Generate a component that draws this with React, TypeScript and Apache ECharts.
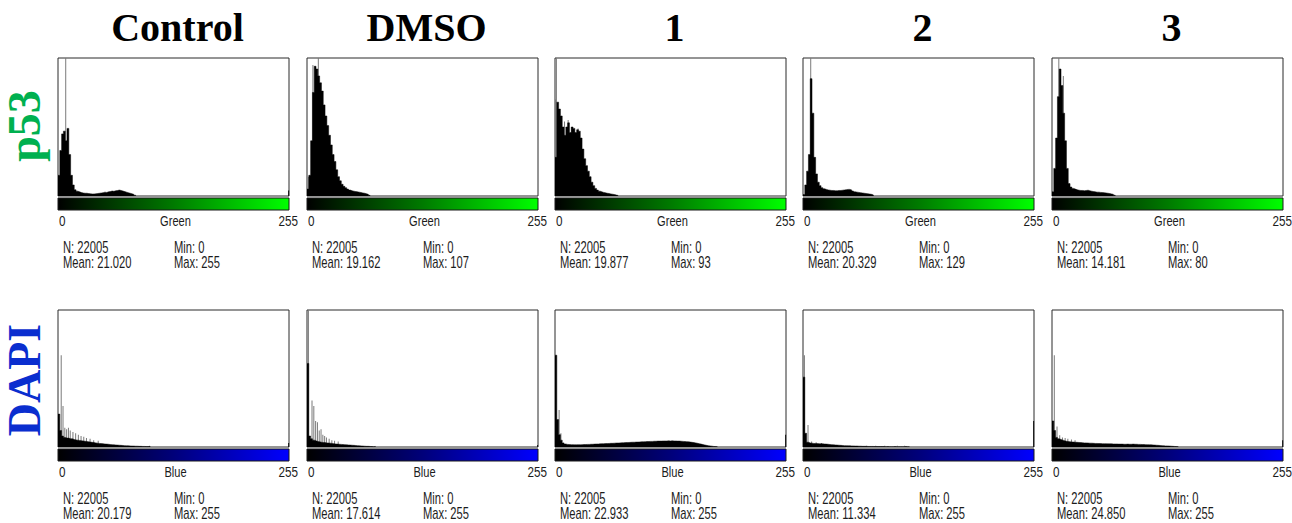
import React, { useEffect, useRef } from "react";
import * as echarts from "echarts";

// ---------- data ----------
const columns = ["Control", "DMSO", "1", "2", "3"];
const rowLabels = ["p53", "DAPI"];
const channelNames = ["Green", "Blue"];
const pixelCount = 22005;
const p53Means = ["21.020", "19.162", "19.877", "20.329", "14.181"];
const p53Mins = [0, 0, 0, 0, 0];
const p53Maxes = [255, 107, 93, 129, 80];
const dapiMeans = ["20.179", "17.614", "22.933", "11.334", "24.850"];
const dapiMins = [0, 0, 0, 0, 0];
const dapiMaxes = [255, 255, 255, 255, 255];
const axisStart = "0";
const axisEnd = "255";

// histogram heights (% of frame height), one value per 2 grey levels, from level 0
const binWidth = 2;
const p53Control = [15, 33, 45, 47, 40, 49, 30, 15, 8, 4.5, 3.5, 3, 2.5, 2.2, 2, 2, 1.8, 1.6, 1.5, 1.5, 1.6, 1.8, 2, 2.2, 2.4, 2.8, 2.6, 3, 3.2, 3.6, 3.4, 3.8, 4, 4.3, 4, 3.6, 3.2, 2.8, 2.4, 2, 1.6, 1.2, 0.6];
const p53Dmso = [5, 15, 40, 75, 94, 92, 87, 82, 76, 66, 58, 51, 44, 37, 30, 25, 19, 14, 11, 8.5, 7, 6, 5, 4.3, 3.8, 3.5, 3.2, 3, 2.8, 2.5, 2.2, 2, 1.6, 1.2, 0.5];
const p53One = [28, 68, 63, 58, 50, 44, 50, 53, 46, 50, 49, 46, 48, 47, 42, 34, 27, 22, 18, 14, 10, 7.5, 5.5, 4.3, 3.5, 3, 2.6, 2.3, 2, 1.8, 1.5, 1.3, 1, 0.7, 0.4];
const p53Two = [1, 8, 18, 30, 85, 60, 28, 16, 10, 7.5, 6, 5.2, 4.8, 4.4, 4.2, 4, 4, 3.8, 3.8, 4, 4, 4.2, 4.4, 4.6, 4.8, 4.8, 4.4, 3.6, 3, 2.8, 2.6, 2.4, 2.2, 2, 1.8, 1.6, 1.4, 1.2, 0.8];
const p53Three = [3, 20, 42, 72, 92, 80, 60, 40, 20, 9, 6.5, 5.5, 5, 4.5, 4.2, 4, 4, 3.8, 4, 4.2, 3.8, 3.5, 3.2, 3, 2.8, 2.8, 2.6, 2.5, 2.4, 2.2, 2, 1.8, 1.5, 1.2, 0.6];
const dapiControl = [24, 12, 8, 7, 6.5, 6.5, 6, 6, 5.5, 5.2, 5, 4.8, 4.6, 4.4, 4.2, 4, 3.8, 3.6, 3.4, 3.2, 3, 2.8, 2.6, 2.5, 2.4, 2.2, 2.1, 2, 1.8, 1.7, 1.6, 1.5, 1.4, 1.3, 1.2, 1.1, 1, 0.9, 0.9, 0.8, 0.7, 0.7, 0.6, 0.6, 0.5, 0.5, 0.4, 0.4, 0.3, 0.3, 0.6];
const dapiDmso = [61, 8, 6, 5, 4.5, 4, 3.8, 3.5, 3.3, 3.2, 3, 2.9, 2.8, 2.6, 2.4, 2.2, 2.1, 2, 1.9, 1.8, 1.7, 1.6, 1.5, 1.4, 1.3, 1.2, 1.1, 1, 0.9, 0.8, 0.7, 0.6, 0.5, 0.5, 0.4, 0.3, 0.2, 0.4];
const dapiOne = [67, 20, 9, 5, 3, 2.2, 1.9, 1.8, 1.7, 1.7, 1.6, 1.6, 1.7, 1.6, 1.7, 1.8, 1.8, 1.9, 1.9, 2, 2, 2.1, 2.2, 2.2, 2.3, 2.4, 2.4, 2.5, 2.5, 2.6, 2.7, 2.7, 2.8, 2.9, 2.9, 3, 3.1, 3.1, 3.2, 3.3, 3.3, 3.4, 3.5, 3.5, 3.6, 3.6, 3.7, 3.8, 3.8, 3.9, 4, 4, 4.1, 4.1, 4.2, 4.2, 4.3, 4.3, 4.3, 4.4, 4.4, 4.4, 4.5, 4.4, 4.5, 4.4, 4.4, 4.3, 4.3, 4.2, 4.1, 4, 3.9, 3.8, 3.6, 3.4, 3.2, 3, 2.7, 2.4, 2.1, 1.8, 1.5, 1.2, 1, 0.8, 0.6, 0.4, 0.3, 0.2];
const dapiTwo = [51, 10, 3.5, 3, 2.8, 2.6, 2.5, 2.5, 2.4, 2.4, 2.3, 2.2, 2.1, 2, 1.8, 1.7, 1.6, 1.5, 1.4, 1.3, 1.2, 1.1, 1, 1, 0.9, 0.9, 0.8, 0.8, 0.7, 0.7, 0.6, 0.6, 0.5, 0.5, 0.5, 0.4, 0.4, 0.4, 0.4, 0.3, 0.3, 0.3, 0.3, 0.3, 0.3, 0.2, 0.3, 0.2, 0.2, 0.2, 0.3, 0.2, 0.2, 0.2, 0.2, 0.2, 0.3, 0.2, 0.2];
const dapiThree = [19, 12, 7, 6, 5.5, 5, 4.6, 4.2, 4, 3.8, 3.7, 3.6, 3.5, 3.4, 3.3, 3.2, 3.1, 3, 3, 2.9, 2.8, 2.8, 2.7, 2.6, 2.6, 2.5, 2.5, 2.4, 2.4, 2.4, 2.3, 2.3, 2.3, 2.2, 2.2, 2.2, 2.1, 2.1, 2.1, 2, 2, 2.1, 2, 2, 2.1, 2, 2, 1.9, 1.9, 1.8, 1.8, 1.7, 1.7, 1.6, 1.6, 1.5, 1.4, 1.3, 1.2, 1.1, 1, 0.9, 0.8, 0.8, 0.7, 0.6, 0.5, 0.4, 0.3, 0.2];

// thin grey spikes [grey level, height %]
const p53ControlSpikes = [[8, 100]];
const p53DmsoSpikes = [[1, 14], [6, 95], [12, 100]];
const p53OneSpikes = [[0, 70], [1, 100], [10, 54], [14, 55], [18, 50], [25, 49]];
const p53TwoSpikes = [[8, 100]];
const p53ThreeSpikes = [[7, 100], [12, 87]];
const dapiControlSpikes = [[3, 67], [5, 30], [7, 14], [9, 13], [11, 14], [13, 12], [16, 11], [19, 10], [22, 9], [25, 8], [28, 7.5], [31, 6.5], [35, 6], [39, 5], [44, 4.5]];
const dapiDmsoSpikes = [[1, 100], [5, 34], [7, 30], [9, 19], [11, 18], [13, 12], [15, 13], [17, 9], [19, 8], [21, 7], [24, 6], [27, 5], [30, 4.5], [34, 4]];
const dapiOneSpikes = [[4, 27], [6, 10]];
const dapiTwoSpikes = [[1, 67], [5, 16], [9, 4], [14, 3.5], [20, 3], [70, 1], [80, 1], [90, 1], [104, 1], [112, 1]];
const dapiThreeSpikes = [[2, 67], [5, 15], [8, 8.5], [11, 7], [14, 6.5], [17, 6], [21, 5.5], [25, 5]];

// height of the level-255 bar (% of frame)
const p53Level255 = [4, 0, 0, 0, 0];
const dapiLevel255 = [3, 1.5, 9, 19, 5];

// ---------- layout ----------
const colLefts = [58, 307, 555, 803, 1052];
const panelW = 231;
const rowTops = [58, 310];
const panelHeights = [138, 137];
const sansFont = "'Liberation Sans', Arial, sans-serif";
const serifFont = "'Liberation Serif', 'Times New Roman', serif";

const spikeRender = (fill: string) => (params: any, api: any) => {
  const l = api.value(0);
  const v = api.value(1);
  const a = api.coord([l, 0]);
  const b = api.coord([l + 1, v]);
  return {
    type: "rect",
    shape: { x: a[0], y: b[1], width: Math.max(b[0] - a[0], 1), height: a[1] - b[1] },
    style: { fill },
  };
};

const App = () => {
  const ref = useRef<HTMLDivElement>(null);
  useEffect(() => {
    const chart = echarts.init(ref.current!, null, { renderer: "svg" });
    const grids: any[] = [];
    const xAxes: any[] = [];
    const yAxes: any[] = [];
    const series: any[] = [];
    const graphics: any[] = [];

    const rows = [
      {
        hists: [p53Control, p53Dmso, p53One, p53Two, p53Three],
        spikes: [p53ControlSpikes, p53DmsoSpikes, p53OneSpikes, p53TwoSpikes, p53ThreeSpikes],
        end: p53Level255,
        means: p53Means,
        mins: p53Mins,
        maxes: p53Maxes,
        bright: "#00ff00",
        mid: "#007a00",
      },
      {
        hists: [dapiControl, dapiDmso, dapiOne, dapiTwo, dapiThree],
        spikes: [dapiControlSpikes, dapiDmsoSpikes, dapiOneSpikes, dapiTwoSpikes, dapiThreeSpikes],
        end: dapiLevel255,
        means: dapiMeans,
        mins: dapiMins,
        maxes: dapiMaxes,
        bright: "#0000ff",
        mid: "#00007a",
      },
    ];

    rows.forEach((row, r) => {
      row.hists.forEach((hist, c) => {
        const idx = r * 5 + c;
        const left = colLefts[c];
        const top = rowTops[r];
        const h = panelHeights[r];
        grids.push({
          left, top, width: panelW, height: h, show: true,
          borderColor: "#2b2b2b", borderWidth: 1, backgroundColor: "#ffffff",
        });
        xAxes.push({ type: "value", gridIndex: idx, min: 0, max: 256, show: false });
        yAxes.push({ type: "value", gridIndex: idx, min: 0, max: 100, show: false });
        series.push({
          type: "custom", xAxisIndex: idx, yAxisIndex: idx, z: 2, silent: true,
          renderItem: spikeRender("#7a7a7a"), data: row.spikes[c],
        });
        series.push({
          type: "line", xAxisIndex: idx, yAxisIndex: idx, z: 3, silent: true,
          step: "end", symbol: "none", showSymbol: false,
          data: [...hist.map((v, i) => [i * binWidth, v]), [hist.length * binWidth, 0]],
          lineStyle: { color: "#000", width: 0.5 },
          areaStyle: { color: "#000", opacity: 1 },
        });
        if (row.end[c] > 0) {
          series.push({
            type: "custom", xAxisIndex: idx, yAxisIndex: idx, z: 3, silent: true,
            renderItem: spikeRender("#111"), data: [[255, row.end[c]]],
          });
        }
        const barTop = top + h + 2;
        graphics.push({
          type: "rect",
          shape: { x: left, y: barTop, width: panelW, height: 12 },
          style: {
            fill: new echarts.graphic.LinearGradient(0, 0, 1, 0, [
              { offset: 0, color: "#000000" },
              { offset: 0.5, color: row.mid },
              { offset: 1, color: row.bright },
            ]),
            stroke: "#1a1a1a",
            lineWidth: 1,
          },
        });
        const labelY = barTop + 22.5;
        const txt = (text: string, x: number, y: number, align: string, size: number, sx: number) => ({
          type: "text", x, y, scaleX: sx,
          style: { text, fill: "#1c1c1c", font: `${size}px ${sansFont}`, align, verticalAlign: "middle" },
        });
        graphics.push(txt(axisStart, left + 1, labelY, "left", 15, 0.78));
        graphics.push(txt(channelNames[r], left + panelW / 2 + 2, labelY, "center", 15, 0.74));
        graphics.push(txt(axisEnd, left + panelW + 9, labelY, "right", 15, 0.78));
        const statY = top + h + 51.5;
        graphics.push(txt(`N: ${pixelCount}`, left + 5, statY, "left", 16, 0.7));
        graphics.push(txt(`Mean: ${row.means[c]}`, left + 5, statY + 15, "left", 16, 0.7));
        graphics.push(txt(`Min: ${row.mins[c]}`, left + 116, statY, "left", 16, 0.7));
        graphics.push(txt(`Max: ${row.maxes[c]}`, left + 116, statY + 15, "left", 16, 0.7));
      });
    });

    columns.forEach((name, c) => {
      graphics.push({
        type: "text", x: colLefts[c] + panelW / 2 + 4, y: 27,
        style: { text: name, fill: "#000", font: `bold 40px ${serifFont}`, align: "center", verticalAlign: "middle" },
      });
    });
    const rowColors = ["#00b050", "#0a2ecf"];
    const rowCenters = [126, 380];
    rowLabels.forEach((name, r) => {
      graphics.push({
        type: "text", x: 24, y: rowCenters[r], rotation: Math.PI / 2,
        style: { text: name, fill: rowColors[r], font: `bold 46px ${serifFont}`, align: "center", verticalAlign: "middle" },
      });
    });

    chart.setOption({
      animation: false,
      backgroundColor: "#ffffff",
      grid: grids,
      xAxis: xAxes,
      yAxis: yAxes,
      series,
      graphic: graphics,
    });
    return () => chart.dispose();
  }, []);
  return (
    <div
      ref={ref}
      style={{ position: "fixed", left: 0, top: 0, width: 1292, height: 523, background: "#fff" }}
    />
  );
};

export default App;
